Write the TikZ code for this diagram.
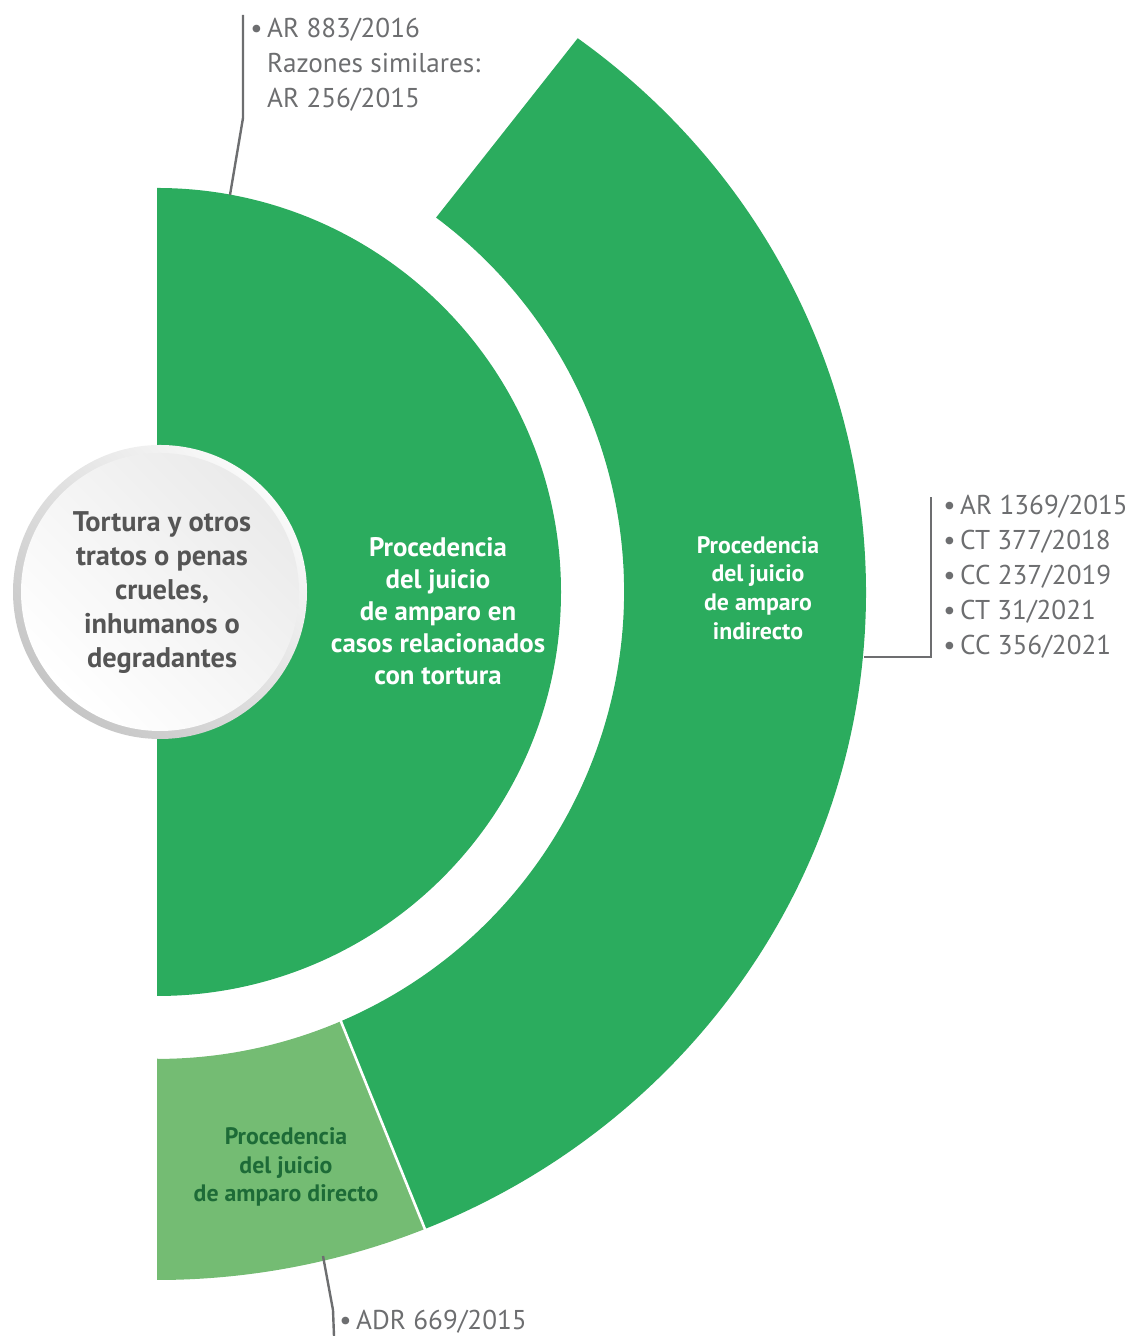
\documentclass[tikz,border=0pt]{standalone}
\usepackage{fontspec}
\setmainfont{PT Sans}
\usepackage{xcolor}
\definecolor{cGreen}{HTML}{2BAC5E}
\definecolor{cLight}{HTML}{74BC73}
\definecolor{cDeep}{HTML}{1D6B37}
\definecolor{cGray}{HTML}{6D6E70}
\definecolor{cInk}{HTML}{555555}
\usepackage{tikz}
\usetikzlibrary{calc}
\tikzset{
  label-core/.style={align=center,text=cInk,inner sep=0pt,
    font=\fontsize{14.2}{17}\selectfont\bfseries},
  label-white/.style={align=center,text=white,inner sep=0pt,
    font=\fontsize{13.4}{16}\selectfont\bfseries},
  label-small/.style={align=center,inner sep=0pt,
    font=\fontsize{11.9}{14.4}\selectfont\bfseries},
  label-ref/.style={align=left,anchor=west,inner sep=0pt,text=cGray,
    font=\fontsize{13.6}{17.5}\selectfont},
  leader/.style={draw=cGray,line width=1.2pt},
}

\begin{document}
\begin{tikzpicture}[x=0.5pt,y=0.5pt]
  \useasboundingbox (0,0) rectangle (1132,1336);
  \coordinate (ctr) at (157,744);
  % half disc and outer band
  \fill[cGreen] ($(ctr)+(90:404)$) arc[start angle=90,end angle=-90,radius=404] -- cycle;
  \fill[cGreen] ($(ctr)+(53.3:467)$) -- ($(ctr)+(53.6:709 and 688)$)
    arc[start angle=53.6,end angle=-67.8,x radius=709,y radius=688]
    -- ($(ctr)+(-66.8:467)$) arc[start angle=-66.8,end angle=53.3,radius=467] -- cycle;
  \fill[cLight] ($(ctr)+(-90:466)$) -- ($(ctr)+(-90:709 and 688)$)
    arc[start angle=-90,end angle=-67.8,x radius=709,y radius=688]
    -- ($(ctr)+(-66.8:467)$) arc[start angle=-66.8,end angle=-90,radius=466] -- cycle;
  \draw[white,line width=1.3pt] ($(ctr)+(-66.8:464)$) -- ($(ctr)+(-67.8:711 and 690)$);
  % central disc
  \shade[top color=gray!4,bottom color=gray!45,shading angle=-45] (160,744) circle[radius=147];
  \shade[top color=gray!16,bottom color=white,shading angle=-45] (160,744) circle[radius=139];
  \node[label-core] (core) at (162,743) {Tortura y otros\\tratos o penas\\crueles,\\inhumanos o\\degradantes};
  \node[label-white] (tortura) at (438,725) {Procedencia\\del juicio\\de amparo en\\casos relacionados\\con tortura};
  \node[label-small,text=white] (indirecto) at (758,748) {Procedencia\\del juicio\\de amparo\\indirecto};
  \node[label-small,text=cDeep] (directo) at (286,169) {Procedencia\\del juicio\\de amparo directo};
  % references
  \node[label-ref] (refTop) at (250,1271) {\textbullet\,AR 883/2016\\\phantom{\textbullet\,}Razones similares:\\\phantom{\textbullet\,}AR 256/2015};
  \node[label-ref] (refRight) at (943,759) {\textbullet\,AR 1369/2015\\\textbullet\,CT 377/2018\\\textbullet\,CC 237/2019\\\textbullet\,CT 31/2021\\\textbullet\,CC 356/2021};
  \node[label-ref] (refBottom) at (339,14) {\textbullet\,ADR 669/2015};
  \coordinate (topA) at (230,1141);
  \coordinate (topB) at (243,1218);
  \coordinate (topC) at (243,1321);
  \coordinate (rightA) at (864,679);
  \coordinate (rightB) at (931,679);
  \coordinate (rightC) at (931,839);
  \coordinate (botA) at (323,80);
  \coordinate (botB) at (333,26);
  \coordinate (botC) at (334,0);
  \draw[leader] (topA) -- (topB) -- (topC);
  \draw[leader] (rightA) -- (rightB) -- (rightC);
  \draw[leader] (botA) -- (botB) -- (botC);
\end{tikzpicture}
\end{document}
